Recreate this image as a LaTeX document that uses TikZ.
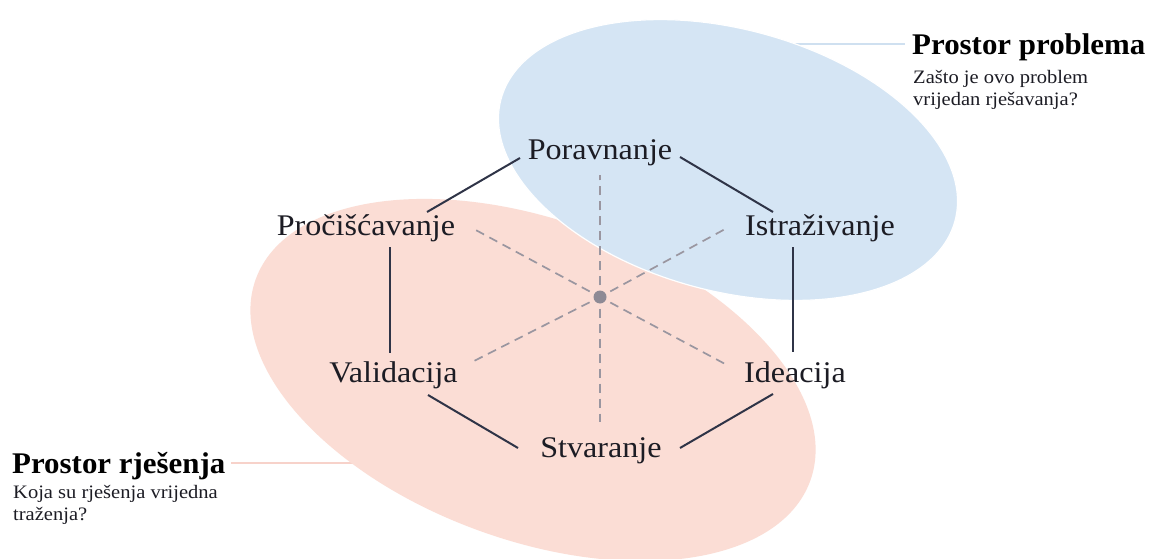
\documentclass[tikz,border=0pt]{standalone}
\usepackage{fontspec}
\setmainfont{Liberation Serif}
\newfontfamily\labfont{Liberation Serif}[FakeStretch=1.07]
\newfontfamily\headfont{Liberation Serif}[FakeStretch=1.03]
\newfontfamily\subfont{Liberation Serif}[FakeStretch=1.08]
\usetikzlibrary{calc}
\definecolor{bluefill}{HTML}{D5E5F4}
\definecolor{pinkfill}{HTML}{FBDDD5}
\definecolor{blueline}{HTML}{CFE0F0}
\definecolor{pinkline}{HTML}{F7D2CA}
\definecolor{labtext}{HTML}{1C1C24}
\definecolor{edgec}{HTML}{2F3447}
\definecolor{spokec}{HTML}{9A96A0}
\definecolor{dotc}{HTML}{8E8A95}
\begin{document}
\begin{tikzpicture}[x=1pt,y=-1pt,
  lab/.style={anchor=base, inner sep=0pt, text=labtext, font=\labfont\fontsize{30}{36}\selectfont},
  headtxt/.style={anchor=base west, inner sep=0pt, text=black, font=\headfont\bfseries\fontsize{30}{36}\selectfont},
  subtxt/.style={anchor=base west, inner sep=0pt, text=labtext, font=\subfont\fontsize{19}{22}\selectfont},
  edge/.style={draw=edgec, line width=2pt},
  spoke/.style={draw=spokec, line width=1.7pt, dash pattern=on 9pt off 6pt, shorten <=5pt},
  leader/.style={line width=2pt}]
\fill[white] (0,0) rectangle (1153,559);
\useasboundingbox (0,0) rectangle (1153,559);

% headings
\node[headtxt] (ph) at (912,55) {Prostor problema};
\node[subtxt] (ps1) at (913,84) {Zašto je ovo problem};
\node[subtxt] (ps2) at (913,105.5) {vrijedan rješavanja?};
\node[headtxt] (sh) at (12,473) {Prostor rješenja};
\node[subtxt] (ss1) at (13,498) {Koja su rješenja vrijedna};
\node[subtxt] (ss2) at (13,520) {traženja?};

% leader lines
\coordinate (bl) at (760,44);
\coordinate (rl) at (360,463);
\draw[leader, draw=blueline] (bl) -- ($(ph.base west)+(-7,-11)$);
\draw[leader, draw=pinkline] ($(sh.base east)+(6,-10)$) -- (rl);

% ellipses
\fill[pinkfill, rotate around={-20:(533,380)}] (533,380) ellipse [x radius=295pt, y radius=160pt];
\fill[bluefill, draw=white, line width=1.2pt, rotate around={-15:(728,160)}] (728,160) ellipse [x radius=235pt, y radius=131pt];

% stage labels
\node[lab] (por) at (600,159) {Poravnanje};
\node[lab] (pro) at (366,235) {Pročišćavanje};
\node[lab] (ist) at (820,235) {Istraživanje};
\node[lab] (val) at (393.5,382) {Validacija};
\node[lab] (ide) at (795,382) {Ideacija};
\node[lab] (stv) at (601,457) {Stvaranje};

% centre
\node[circle, fill=dotc, minimum size=13pt, inner sep=0pt] (c) at (600,297) {};

% spokes
\draw[spoke] (c) -- ($(por.base)+(0,16)$);
\draw[spoke] (c) -- ($(pro.base)+(106,-7)$);
\draw[spoke] (c) -- ($(ist.base)+(-93,-7)$);
\draw[spoke] (c) -- ($(val.base)+(78.5,-20)$);
\draw[spoke] (c) -- ($(ide.base)+(-68,-17)$);
\draw[spoke] (c) -- ($(stv.base)+(-1,-35)$);

% hexagon edges
\draw[edge] ($(por.base)+(-80,-1)$) -- ($(pro.base)+(61,-23)$);
\draw[edge] ($(por.base)+(80,-2)$) -- ($(ist.base)+(-47,-23)$);
\draw[edge] ($(pro.base)+(24,12)$) -- ($(val.base)+(-3.5,-29)$);
\draw[edge] ($(ist.base)+(-27,12)$) -- ($(ide.base)+(-2,-30)$);
\draw[edge] ($(val.base)+(34.5,13)$) -- ($(stv.base)+(-83,-9)$);
\draw[edge] ($(ide.base)+(-22,12)$) -- ($(stv.base)+(79,-9)$);
\end{tikzpicture}
\end{document}
